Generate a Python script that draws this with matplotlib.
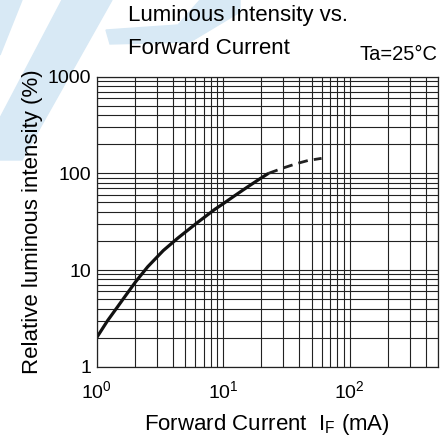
import matplotlib
matplotlib.use("Agg")
import matplotlib.pyplot as plt
from matplotlib.patches import Polygon
from matplotlib.ticker import LogLocator, NullFormatter

plt.rcParams['font.family'] = ['Liberation Sans', 'DejaVu Sans']
plt.rcParams['mathtext.fontset'] = 'custom'
plt.rcParams['mathtext.rm'] = 'Liberation Sans'
plt.rcParams['mathtext.it'] = 'Liberation Sans:italic'

# forward current (mA) vs relative luminous intensity (%)
if_solid = [1, 1.22, 1.45, 1.66, 2.03, 2.53, 3.36, 4.4, 6.2, 8.6, 10, 12.4, 15.5, 19.3, 22.8]
iv_solid = [2, 3.0, 4.1, 5.25, 7.55, 10.8, 15.9, 21.5, 30.7, 42.5, 48.5, 59, 72, 87, 100]
if_dash = [22.8, 30, 38, 47, 60]
iv_dash = [100, 114, 126, 136, 143]

x_ticks = [1, 10, 100]
x_labels = [r'$10^{0}$', r'$10^{1}$', r'$10^{2}$']
y_ticks = [1, 10, 100, 1000]
y_labels = ['1', '10', '100', '1000']

W, H = 444, 442
fig = plt.figure(figsize=(W / 100, H / 100), dpi=100)

def px(pts):
    return [(x / W, 1 - y / H) for x, y in pts]

# faint logo watermark behind everything
wm = '#d8e9f5'
for pts in ([(0, 0), (22, 0), (0, 55)],
            [(62, 0), (112, 0), (22, 160), (0, 160), (0, 118)],
            [(106, 30), (110, 44), (190, 42), (240, 12), (240, 0), (200, 0), (178, 25)]):
    fig.patches.append(Polygon(px(pts), closed=True, transform=fig.transFigure,
                               color=wm, zorder=-5))

ax = fig.add_axes([96.7 / W, 1 - 366.7 / H, (438 - 96.7) / W, (366.7 - 76.7) / H])
ax.set_xscale('log')
ax.set_yscale('log')
ax.set_xlim(1, 500)
ax.set_ylim(1, 1000)

ax.xaxis.set_minor_locator(LogLocator(base=10, subs=range(2, 10), numticks=20))
ax.yaxis.set_minor_locator(LogLocator(base=10, subs=range(2, 10), numticks=20))
ax.xaxis.set_minor_formatter(NullFormatter())
ax.yaxis.set_minor_formatter(NullFormatter())
ax.set_xticks(x_ticks)
ax.set_xticklabels(x_labels)
ax.set_yticks(y_ticks)
ax.set_yticklabels(y_labels)
ax.tick_params(which='both', length=0, labelsize=14)
ax.tick_params(axis='x', pad=10)
ax.tick_params(axis='y', pad=4)
ax.grid(True, which='both', color='#222222', linewidth=0.8)
ax.set_axisbelow(True)
for s in ax.spines.values():
    s.set_linewidth(0.9)
    s.set_color('#222222')

ax.plot(if_solid, iv_solid, color='#111111', linewidth=2.3,
        solid_capstyle='butt', solid_joinstyle='round')
ax.plot(if_dash, iv_dash, color='#222222', linewidth=2.0, linestyle=(0, (3.5, 2.2)))

ax.set_xlabel(r'Forward Current  I$_{\mathrm{F}}$ (mA)', fontsize=16, labelpad=7)
ax.set_ylabel('Relative luminous intensity (%)', fontsize=16, labelpad=3)

fig.text(128 / W, 1 - 16 / H, 'Luminous Intensity vs.', fontsize=16, va='center', ha='left', zorder=10)
fig.text(128 / W, 1 - 49 / H, 'Forward Current', fontsize=16, va='center', ha='left', zorder=10)
fig.text(437 / W, 1 - 54 / H, 'Ta=25°C', fontsize=14.5, va='center', ha='right', zorder=10)

fig.savefig('out.png', dpi=100)
